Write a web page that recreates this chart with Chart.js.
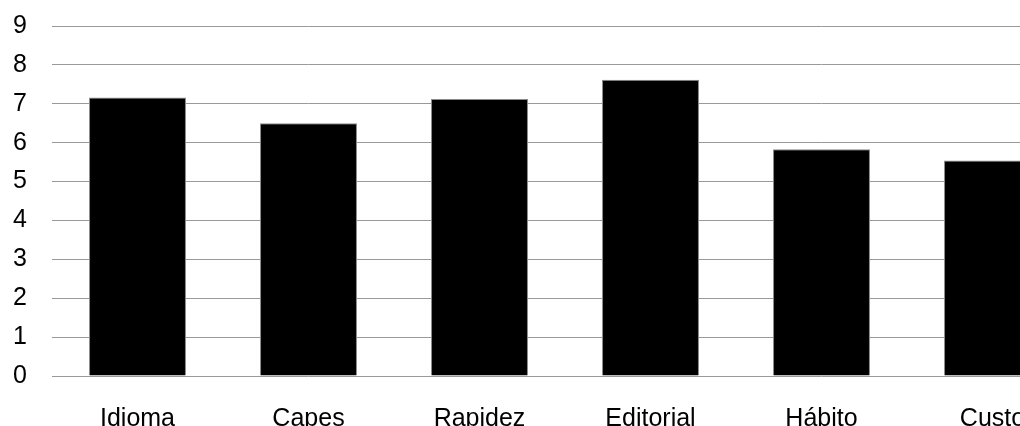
<!DOCTYPE html>
<html>
<head>
<meta charset="utf-8">
<script src="https://cdn.jsdelivr.net/npm/chart.js@4/dist/chart.umd.min.js"></script>
<style>
  html, body { margin: 0; padding: 0; background: #fff; overflow: hidden; }
  canvas { display: block; }
</style>
</head>
<body>
<canvas id="grafico" width="1090" height="450"></canvas>
<script>
// categorias e valores
const categorias = ["Idioma", "Capes", "Rapidez", "Editorial", "Hábito", "Custo"];
const valores = [7.16, 6.5, 7.12, 7.62, 5.83, 5.54];
const ticksY = [0, 1, 2, 3, 4, 5, 6, 7, 8, 9];

const fonte = { family: "'Liberation Sans', Arial, sans-serif", size: 25 };

new Chart(document.getElementById("grafico"), {
    type: 'bar',
    data: {
        labels: categorias,
        datasets: [{
            data: valores,
            backgroundColor: '#000000',
            borderColor: '#8a8a8a',
            borderWidth: 1,
            categoryPercentage: 1,
            barPercentage: 0.567
        }]
    },
    options: {
        responsive: false,
        animation: false,
        layout: { padding: { top: 0, right: 12, bottom: 0, left: 0 } },
        plugins: {
            legend: { display: false },
            tooltip: { enabled: false }
        },
        scales: {
            x: {
                afterFit: (escala) => { escala.height = 74; },
                grid: { display: false },
                border: { display: false },
                ticks: { color: '#000', font: fonte, padding: 20, maxRotation: 0, autoSkip: false }
            },
            y: {
                min: ticksY[0],
                max: ticksY[ticksY.length - 1],
                afterFit: (escala) => {
                    escala.width = 52;
                    escala.paddingTop = 26;
                    escala.paddingBottom = 0;
                },
                afterBuildTicks: (escala) => { escala.ticks = ticksY.map(v => ({ value: v })); },
                grid: { color: '#999999', lineWidth: 1, drawTicks: false },
                border: { display: false },
                ticks: { color: '#000', font: fonte, padding: 25 }
            }
        }
    }
});
</script>
</body>
</html>
